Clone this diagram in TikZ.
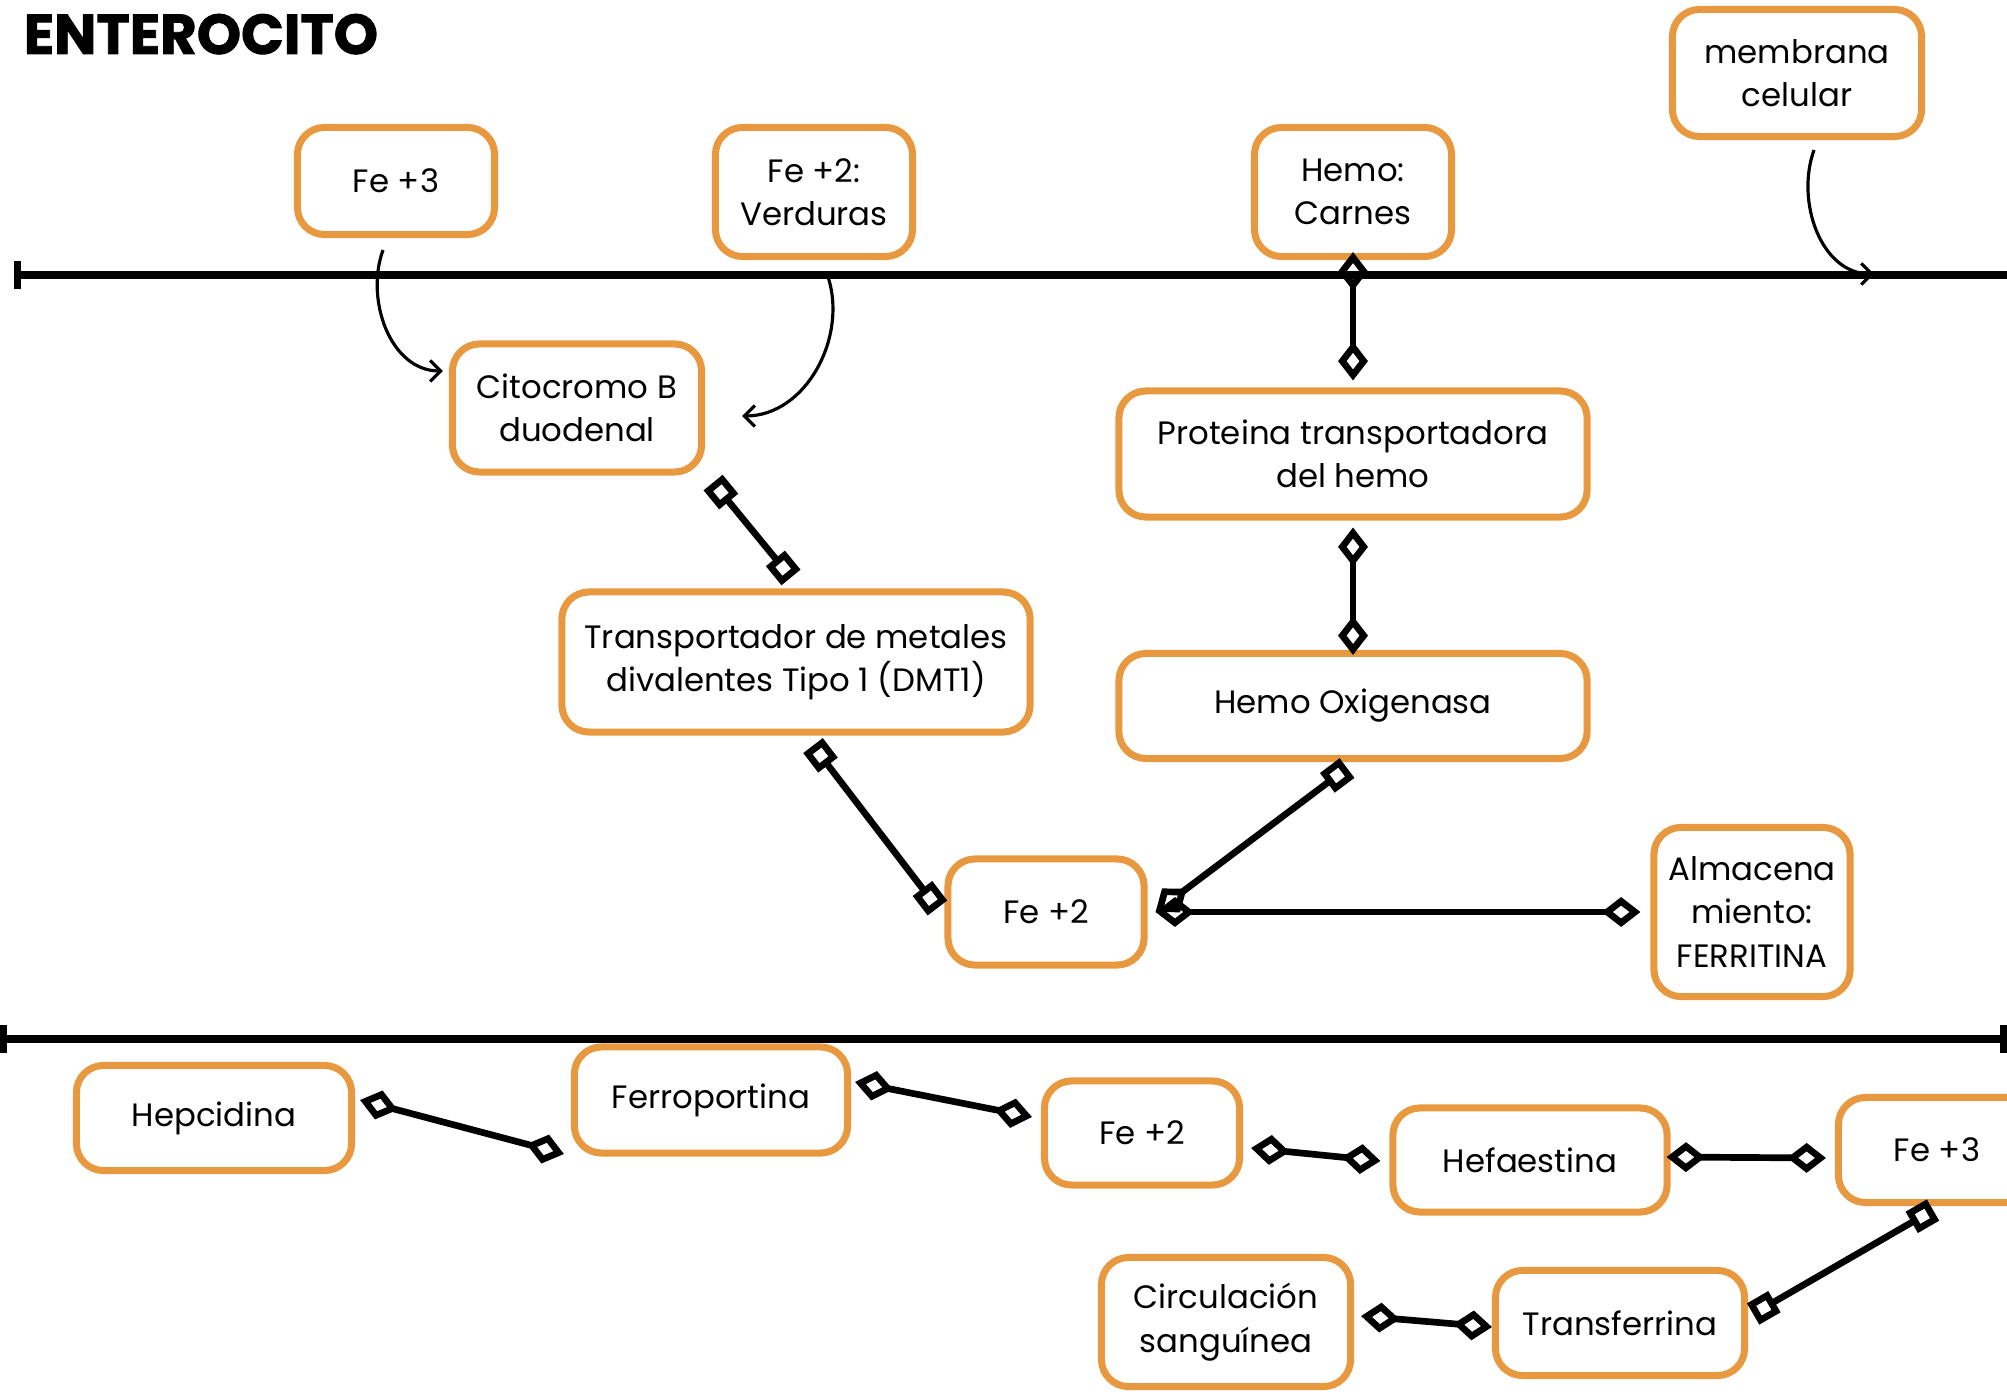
\documentclass[tikz,border=0pt]{standalone}
\usepackage{fontspec}
\setmainfont{Poppins}
\newfontfamily\titlefont[BoldFeatures={FakeBold=1.5}]{Poppins}
\usepackage{xcolor}
\usetikzlibrary{arrows.meta,calc}
\definecolor{boxorange}{RGB}{232,153,64}

\begin{document}
\begin{tikzpicture}[x=0.01cm, y=-0.01cm,
  every node/.style={font=\fontsize{9.2}{12.3}\selectfont},
  box/.style={draw=boxorange, line width=2pt, rounded corners=0.27cm, fill=white, align=center, inner sep=0pt},
  membrane/.style={line width=2pt, line cap=round},
  link/.style={line width=1.9pt, {Diamond[open,length=11pt,width=8.5pt]}-{Diamond[open,length=11pt,width=8.5pt]}},
  sqlink/.style={line width=1.9pt, {Square[open,length=7pt,width=7pt]}-{Square[open,length=7pt,width=7pt]}},
  mixlink/.style={line width=1.9pt, {Square[open,length=7pt,width=7pt]}-{Diamond[open,length=11pt,width=8.5pt]}},
  curved/.style={line width=0.9pt, -{Straight Barb[length=3pt,width=6pt]}}]
\path[fill=white, use as bounding box] (0,0) rectangle (2007,1392);

% Title and membranes
\node[anchor=base west, inner sep=0pt, font=\titlefont\fontsize{16}{16}\selectfont\bfseries] (title) at (23,54) {ENTEROCITO};
\draw[membrane, {Bar[width=8pt]}-] (14,275) -- (2010,275);
\draw[membrane, {Bar[width=8pt]}-{Bar[width=8pt]}] (0,1039) -- (2007,1039);
\coordinate (memtip) at (1874,274);

% Apical side
\node[box, minimum width=1.97cm, minimum height=1.07cm] (fe3top) at (396,181) {Fe +3};
\node[box, minimum width=1.97cm, minimum height=1.29cm] (verduras) at (814,192) {Fe +2:\\Verduras};
\node[box, minimum width=1.97cm, minimum height=1.29cm] (carnes) at (1353,192) {Hemo:\\Carnes};
\node[box, minimum width=2.49cm, minimum height=1.27cm] (membrana) at (1797,73) {membrana\\celular};

% Inside the cell
\node[box, minimum width=2.49cm, minimum height=1.28cm] (cito) at (577,408) {Citocromo B\\duodenal};
\node[box, minimum width=4.68cm, minimum height=1.26cm] (prot) at (1353,454) {Proteina transportadora\\del hemo};
\node[box, minimum width=4.68cm, minimum height=1.40cm] (dmt) at (796,662) {Transportador de metales\\divalentes Tipo 1 (DMT1)};
\node[box, minimum width=4.68cm, minimum height=1.05cm] (oxig) at (1353,706) {Hemo Oxigenasa};
\node[box, minimum width=1.96cm, minimum height=1.06cm] (fe2mid) at (1046,912) {Fe +2};
\node[box, minimum width=1.96cm, minimum height=1.69cm] (ferritina) at (1752,912) {Almacena\\miento:\\FERRITINA};

% Basolateral side
\node[box, minimum width=2.75cm, minimum height=1.05cm] (hepcidina) at (214,1118) {Hepcidina};
\node[box, minimum width=2.73cm, minimum height=1.06cm] (ferroportina) at (711,1100) {Ferroportina};
\node[box, minimum width=1.95cm, minimum height=1.04cm] (fe2low) at (1142,1133) {Fe +2};
\node[box, minimum width=2.74cm, minimum height=1.04cm] (hefaestina) at (1530,1160) {Hefaestina};
\node[box, minimum width=1.97cm, minimum height=1.05cm] (fe3low) at (1937,1150) {Fe +3};
\node[box, minimum width=2.49cm, minimum height=1.29cm] (circulacion) at (1226,1322) {Circulación\\sanguínea};
\node[box, minimum width=2.49cm, minimum height=1.05cm] (transferrina) at (1620,1323) {Transferrina};

% Curved arrows
\draw[curved] ($(fe3top.south)+(-13,12)$) to[out=250, in=180] ($(cito.west)+(-6,-37)$);
\draw[curved] ($(verduras.south)+(13,14)$) to[out=290, in=0] ($(cito.east)+(37,8)$);
\draw[curved] ($(membrana.south)+(17,10)$) to[out=250, in=180] (memtip);

% Connectors
\draw[sqlink] ($(cito.south east)+(8,7)$) -- ($(dmt.north)+(-5,-11)$);
\draw[sqlink] ($(dmt.south)+(17,10)$) -- ($(fe2mid.west)+(-7,-4)$);
\draw[mixlink] ($(oxig.south)+(-6,6)$) -- ($(fe2mid.east)+(8,0)$);
\draw[link] ($(fe2mid.east)+(8,0)$) -- ($(ferritina.west)+(-10,0)$);
\draw[link] ($(carnes.south)+(0,-8)$) -- ($(prot.north)+(0,-7)$);
\draw[link] ($(prot.south)+(0,7)$) -- ($(oxig.north)+(0,5)$);
\draw[link] ($(hepcidina.east)+(5,-18)$) -- ($(ferroportina.west)+(-7,54)$);
\draw[link] ($(ferroportina.east)+(4,-18)$) -- ($(fe2low.west)+(-9,-16)$);
\draw[link] ($(fe2low.east)+(8,15)$) -- ($(hefaestina.west)+(-9,1)$);
\draw[link] ($(hefaestina.east)+(-4,-3)$) -- ($(fe3low.west)+(-9,8)$);
\draw[sqlink] ($(fe3low.south)+(-4,4)$) -- ($(transferrina.east)+(5,-9)$);
\draw[link] ($(circulacion.east)+(7,-6)$) -- ($(transferrina.west)+(0,4)$);
\end{tikzpicture}
\end{document}
